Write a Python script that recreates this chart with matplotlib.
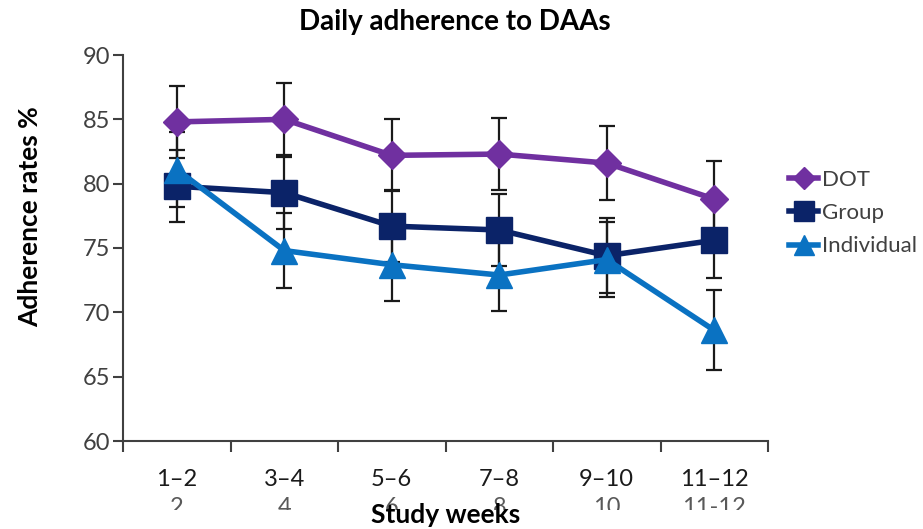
import matplotlib
matplotlib.use("Agg")
import matplotlib.pyplot as plt
from matplotlib.transforms import Bbox, ScaledTranslation

plt.rcParams['font.family'] = ['Lato', 'DejaVu Sans']

# Study periods (weeks) and mean adherence with error bars
periods = ["1\u20132", "3\u20134", "5\u20136", "7\u20138", "9\u201310", "11\u201312"]
periods_alt = ["2", "4", "6", "8", "10", "11-12"]

dot_mean = [84.8, 85.0, 82.2, 82.3, 81.6, 78.8]
dot_err = [2.8, 2.8, 2.8, 2.8, 2.9, 3.0]

group_mean = [79.8, 79.3, 76.7, 76.4, 74.4, 75.6]
group_err = [2.8, 2.8, 2.8, 2.8, 2.9, 2.9]

indiv_mean = [81.1, 74.8, 73.7, 72.9, 74.1, 68.6]
indiv_err = [2.9, 2.9, 2.8, 2.8, 2.9, 3.1]

series = [
    ("DOT", dot_mean, dot_err, "#7030A0", "D", 14.5),
    ("Group", group_mean, group_err, "#0B2368", "s", 18.5),
    ("Individual", indiv_mean, indiv_err, "#0A72C2", "^", 19),
]

W, H = 923, 529
fig = plt.figure(figsize=(W / 100, H / 100), dpi=100)
ax = fig.add_axes([123 / W, 1 - 441 / H, (768 - 123) / W, (441 - 55) / H])

x = list(range(len(periods)))
for name, mean, err, color, marker, ms in series:
    ax.errorbar(x, mean, yerr=err, fmt="none", ecolor="#1a1a1a",
                elinewidth=1.6, capsize=6, capthick=1.6, zorder=2)
    ax.plot(x, mean, color=color, lw=4, marker=marker, ms=ms,
            mfc=color, mec=color, label=name, zorder=3)

ax.set_xlim(-0.5, len(periods) - 0.5)
ax.set_ylim(60, 90)
ax.set_yticks(range(60, 91, 5))
ax.set_xticks([i - 0.5 for i in range(len(periods) + 1)])
ax.set_xticklabels([])
ax.set_xticks(x, minor=True)
ax.set_xticklabels(periods, minor=True)
ax.tick_params(axis="x", which="minor", length=0, pad=20,
               labelsize=17, labelcolor="#1a1a1a")
ax.tick_params(axis="x", which="major", length=8, width=1.5,
               color="#404040", direction="out")
ax.tick_params(axis="y", length=7, width=1.5, color="#404040",
               labelsize=17, labelcolor="#404040", pad=2)

for side in ("top", "right"):
    ax.spines[side].set_visible(False)
for side in ("left", "bottom"):
    ax.spines[side].set_color("#404040")
    ax.spines[side].set_linewidth(1.5)

# Second row of period labels, partly hidden beneath the axis title
clip = Bbox.from_extents(0, H - 510, W, H)
offset = ScaledTranslation(0, -56 / 100, fig.dpi_scale_trans)
for i, lab in enumerate(periods_alt):
    t = ax.text(i, 0, lab, transform=ax.get_xaxis_transform() + offset,
                ha="center", va="top", fontsize=17, color="#595959")
    t.set_clip_box(clip)
    t.set_clip_on(True)

fig.text(446 / W, 1 - 515 / H, "Study weeks", ha="center", va="center",
         fontsize=19, fontweight="bold", color="black")
fig.text(30 / W, 1 - 217 / H, "Adherence rates %", ha="center", va="center",
         rotation=90, fontsize=19, fontweight="bold", color="black")
fig.text(455 / W, 1 - 22 / H, "Daily adherence to DAAs", ha="center",
         va="center", fontsize=20, fontweight="bold", color="black")

leg = ax.legend(loc="center left", bbox_to_anchor=(778 / W, 1 - 213 / H),
                bbox_transform=fig.transFigure, frameon=False,
                fontsize=16, handlelength=1.3, handletextpad=0.2,
                labelspacing=0.6, markerscale=0.75, borderpad=0)
for txt in leg.get_texts():
    txt.set_color("#404040")

fig.savefig("out.png", dpi=100)
